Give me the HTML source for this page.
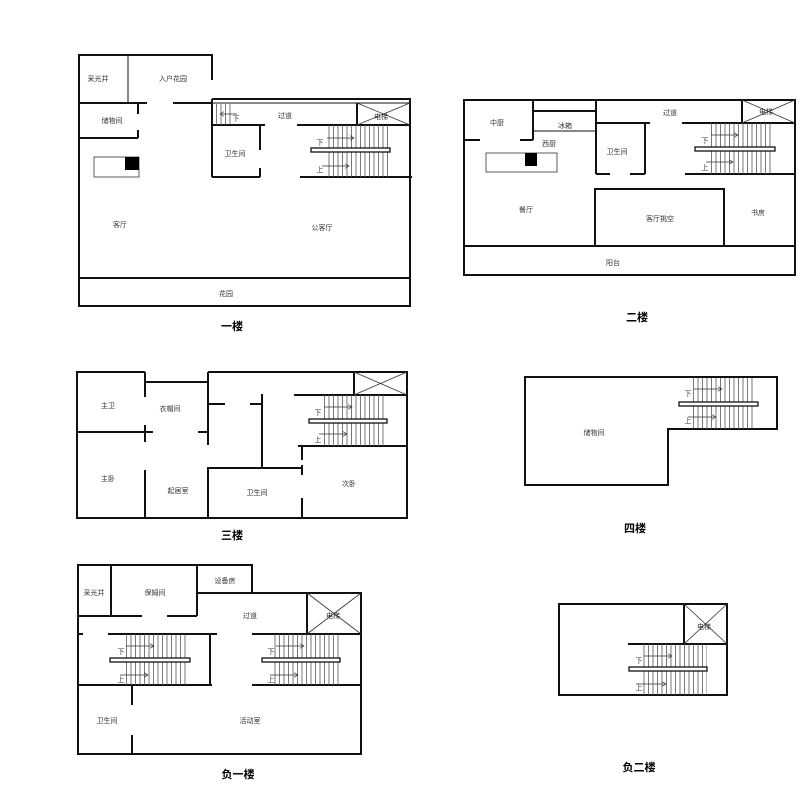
<!DOCTYPE html>
<html><head><meta charset="utf-8"><style>
html,body{margin:0;padding:0;background:#fff}
svg{display:block}
text{font-family:"Liberation Sans","Noto Sans CJK SC",sans-serif;font-size:7px;fill:#333;text-anchor:middle}
.t{font-size:11px;font-weight:bold;fill:#000}
</style></head><body>
<svg width="811" height="812" viewBox="0 0 811 812" xmlns="http://www.w3.org/2000/svg">
<defs>
<pattern id="st" width="4.5" height="10" patternUnits="userSpaceOnUse"><line x1="0.5" y1="0" x2="0.5" y2="10" stroke="#555" stroke-width="0.8"/></pattern>
<marker id="ar" markerWidth="6" markerHeight="6" refX="5" refY="3" orient="auto"><path d="M0,0 L5,3 L0,6" fill="none" stroke="#333" stroke-width="0.8"/></marker>
</defs>
<g fill="none" stroke="#111" stroke-width="2">
<!-- ===== Floor 1 ===== -->
<polyline points="212,80 212,55 79,55 79,306 410,306 410,99 212,99"/>
<line x1="212" y1="103" x2="410" y2="103" stroke-width="1"/>
<line x1="128" y1="55" x2="128" y2="103" stroke-width="1"/>
<line x1="79" y1="103" x2="147" y2="103"/><line x1="173" y1="103" x2="212" y2="103"/>
<line x1="138" y1="103" x2="138" y2="114"/><line x1="138" y1="130" x2="138" y2="138"/>
<line x1="79" y1="138" x2="138" y2="138"/>
<line x1="212" y1="99" x2="212" y2="177"/>
<line x1="212" y1="125" x2="265" y2="125"/><line x1="297" y1="125" x2="410" y2="125"/>
<line x1="260" y1="125" x2="260" y2="150"/><line x1="260" y1="168" x2="260" y2="177"/>
<line x1="212" y1="177" x2="260" y2="177"/><line x1="300" y1="177" x2="412" y2="177"/>
<line x1="357" y1="103" x2="357" y2="125"/>
<line x1="79" y1="278" x2="410" y2="278"/>
<!-- ===== Floor 2 ===== -->
<rect x="464" y="100" width="331" height="175"/>
<line x1="533" y1="100" x2="533" y2="140"/><line x1="464" y1="140" x2="480" y2="140"/><line x1="520" y1="140" x2="533" y2="140"/>
<line x1="533" y1="111" x2="596" y2="111"/><line x1="533" y1="131" x2="596" y2="131" stroke-width="1"/>
<line x1="596" y1="100" x2="596" y2="174"/>
<line x1="596" y1="123" x2="650" y2="123"/><line x1="682" y1="123" x2="795" y2="123"/>
<line x1="645" y1="123" x2="645" y2="174"/>
<line x1="596" y1="174" x2="610" y2="174"/><line x1="630" y1="174" x2="645" y2="174"/><line x1="685" y1="174" x2="795" y2="174"/>
<line x1="742" y1="100" x2="742" y2="123"/>
<polyline points="595,246 595,189 724,189 724,246"/>
<line x1="464" y1="246" x2="795" y2="246"/>
<!-- ===== Floor 3 ===== -->
<polyline points="145,372 77,372 77,518 407,518 407,372 208,372"/>
<line x1="145" y1="382" x2="208" y2="382"/>
<line x1="145" y1="372" x2="145" y2="397"/><line x1="145" y1="425" x2="145" y2="442"/><line x1="145" y1="470" x2="145" y2="518"/>
<line x1="77" y1="432" x2="153" y2="432"/><line x1="198" y1="432" x2="208" y2="432"/>
<line x1="208" y1="372" x2="208" y2="445"/><line x1="208" y1="467" x2="208" y2="518"/>
<line x1="208" y1="404" x2="225" y2="404"/><line x1="250" y1="404" x2="262" y2="404"/>
<line x1="262" y1="394" x2="262" y2="468"/>
<line x1="208" y1="468" x2="302" y2="468"/>
<line x1="302" y1="445" x2="302" y2="460"/><line x1="302" y1="465" x2="302" y2="475"/><line x1="302" y1="498" x2="302" y2="518"/>
<line x1="294" y1="395" x2="407" y2="395"/>
<line x1="298" y1="446" x2="407" y2="446"/>
<line x1="354" y1="372" x2="354" y2="395"/>
<!-- ===== Floor 4 ===== -->
<polygon points="525,377 777,377 777,429 668,429 668,485 525,485"/>
<!-- ===== Floor -1 ===== -->
<polyline points="78,616 78,565 252,565 252,593 361,593 361,754 78,754 78,616"/>
<line x1="111" y1="565" x2="111" y2="616"/>
<line x1="197" y1="565" x2="197" y2="616"/>
<line x1="197" y1="593" x2="252" y2="593"/>
<line x1="78" y1="616" x2="142" y2="616"/><line x1="167" y1="616" x2="197" y2="616"/>
<line x1="78" y1="634" x2="83" y2="634"/><line x1="108" y1="634" x2="217" y2="634"/>
<line x1="210" y1="634" x2="210" y2="685"/>
<line x1="78" y1="685" x2="212" y2="685"/>
<line x1="252" y1="634" x2="361" y2="634"/>
<line x1="252" y1="685" x2="361" y2="685"/>
<line x1="307" y1="593" x2="307" y2="634"/>
<line x1="132" y1="686" x2="132" y2="705"/><line x1="132" y1="735" x2="132" y2="754"/>
<!-- ===== Floor -2 ===== -->
<rect x="559" y="604" width="168" height="91"/>
<line x1="684" y1="604" x2="684" y2="644"/>
<line x1="628" y1="644" x2="727" y2="644"/>
</g>
<!-- elevators crosses -->
<g stroke="#333" stroke-width="0.8">
<line x1="357" y1="103" x2="410" y2="125"/><line x1="357" y1="125" x2="410" y2="103"/>
<line x1="742" y1="100" x2="795" y2="123"/><line x1="742" y1="123" x2="795" y2="100"/>
<line x1="354" y1="372" x2="407" y2="395"/><line x1="354" y1="395" x2="407" y2="372"/>
<line x1="307" y1="593" x2="361" y2="634"/><line x1="307" y1="634" x2="361" y2="593"/>
<line x1="684" y1="604" x2="727" y2="644"/><line x1="684" y1="644" x2="727" y2="604"/>
</g>
<!-- stairs -->
<g stroke="none" fill="url(#st)">
<rect x="213" y="104" width="20" height="21"/>
<rect x="325" y="125" width="64" height="52"/>
<rect x="709" y="123" width="64" height="51"/>
<rect x="322" y="395" width="63" height="51"/>
<rect x="691" y="378" width="65" height="51"/>
<rect x="124" y="634" width="64" height="51"/>
<rect x="274" y="634" width="66" height="51"/>
<rect x="641" y="644" width="66" height="51"/>
</g>
<g fill="#fff" stroke="#111" stroke-width="1.3">
<rect x="311" y="148" width="79" height="4"/>
<rect x="695" y="147" width="80" height="4"/>
<rect x="309" y="419" width="78" height="4"/>
<rect x="679" y="402" width="79" height="4"/>
<rect x="110" y="658" width="80" height="4"/>
<rect x="262" y="658" width="78" height="4"/>
<rect x="629" y="667" width="78" height="4"/>
</g>
<!-- arrows -->
<g stroke="#333" stroke-width="0.8" marker-end="url(#ar)">
<line x1="237" y1="114" x2="220" y2="114"/>
<line x1="327" y1="138" x2="354" y2="138"/><line x1="322" y1="166" x2="349" y2="166"/>
<line x1="711" y1="135" x2="738" y2="135"/><line x1="706" y1="162" x2="733" y2="162"/>
<line x1="324" y1="407" x2="352" y2="407"/><line x1="319" y1="434" x2="347" y2="434"/>
<line x1="694" y1="389" x2="722" y2="389"/><line x1="688" y1="417" x2="716" y2="417"/>
<line x1="126" y1="646" x2="154" y2="646"/><line x1="120" y1="675" x2="148" y2="675"/>
<line x1="276" y1="646" x2="304" y2="646"/><line x1="270" y1="675" x2="298" y2="675"/>
<line x1="644" y1="656" x2="672" y2="656"/><line x1="636" y1="684" x2="666" y2="684"/>
</g>
<!-- counters -->
<rect x="94" y="157" width="45" height="20" fill="#fff" stroke="#333" stroke-width="0.8"/>
<rect x="125" y="157" width="14" height="13" fill="#000"/>
<rect x="486" y="153" width="71" height="19" fill="#fff" stroke="#333" stroke-width="0.8"/>
<rect x="525" y="153" width="12" height="13" fill="#000"/>
<!-- labels -->
<text x="98" y="81">采光井</text><text x="173" y="81">入户花园</text><text x="112" y="123">储物间</text>
<text x="285" y="118">过道</text><text x="381" y="119">电梯</text><text x="235" y="156">卫生间</text>
<text x="120" y="227">客厅</text><text x="322" y="230">公客厅</text><text x="226" y="296">花园</text>
<text x="236" y="121">下</text><text x="320" y="145">下</text><text x="320" y="172">上</text>
<text x="497" y="125">中厨</text><text x="565" y="128">冰箱</text><text x="549" y="146">西厨</text>
<text x="670" y="115">过道</text><text x="766" y="114">电梯</text><text x="617" y="154">卫生间</text>
<text x="526" y="212">餐厅</text><text x="660" y="221">客厅挑空</text><text x="758" y="215">书房</text><text x="613" y="265">阳台</text>
<text x="705" y="143">下</text><text x="705" y="170">上</text>
<text x="108" y="408">主卫</text><text x="170" y="411">衣帽间</text><text x="108" y="481">主卧</text>
<text x="178" y="493">起居室</text><text x="257" y="495">卫生间</text><text x="349" y="486">次卧</text>
<text x="318" y="415">下</text><text x="318" y="442">上</text>
<text x="594" y="435">储物间</text><text x="688" y="396">下</text><text x="688" y="423">上</text>
<text x="94" y="595">采光井</text><text x="155" y="595">保姆间</text><text x="225" y="583">设备房</text>
<text x="250" y="618">过道</text><text x="333" y="618">电梯</text><text x="107" y="723">卫生间</text><text x="250" y="723">活动室</text>
<text x="121" y="654">下</text><text x="121" y="682">上</text><text x="271" y="654">下</text><text x="271" y="682">上</text>
<text x="704" y="629">电梯</text><text x="639" y="663">下</text><text x="639" y="690">上</text>
<text class="t" x="232" y="330">一楼</text>
<text class="t" x="637" y="321">二楼</text>
<text class="t" x="232" y="539">三楼</text>
<text class="t" x="635" y="532">四楼</text>
<text class="t" x="238" y="778">负一楼</text>
<text class="t" x="639" y="771">负二楼</text>
</svg>
</body></html>
